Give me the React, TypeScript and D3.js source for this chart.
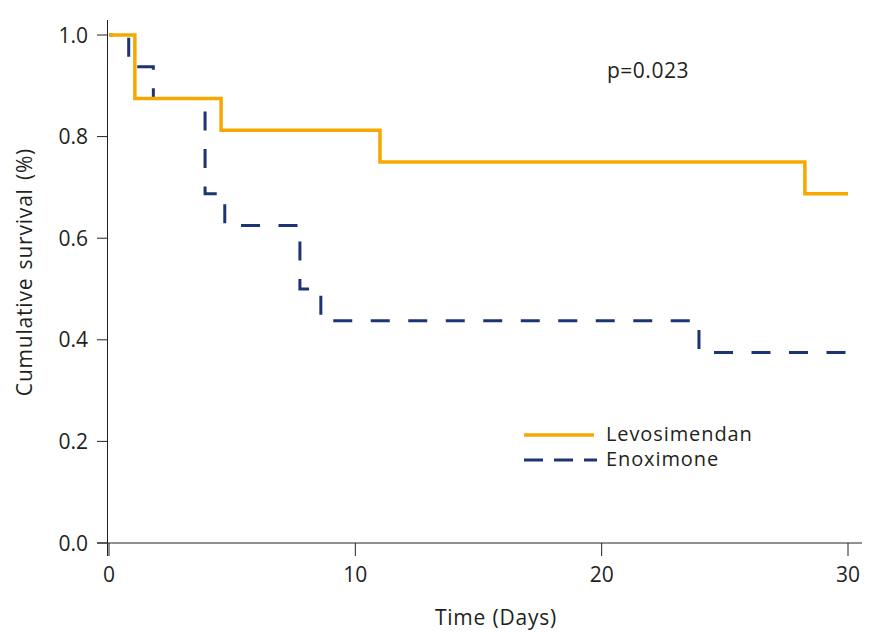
import React from "react";
import * as d3 from "d3";

const levoTimes = [0, 1.05, 4.55, 11.0, 28.25, 30];
const levoSurv = [1.0, 0.875, 0.8125, 0.75, 0.6875, 0.6875];
const enoxTimes = [0, 0.8, 1.8, 3.9, 4.7, 7.75, 8.6, 23.95, 30];
const enoxSurv = [1.0, 0.9375, 0.875, 0.6875, 0.625, 0.5, 0.4375, 0.375, 0.375];
const xTicks = [0, 10, 20, 30];
const yTicks = [0, 0.2, 0.4, 0.6, 0.8, 1.0];
const seriesNames = ["Levosimendan", "Enoximone"];
const pLabel = "p=0.023";

const W = 894;
const H = 632;
const ORANGE = "#f7a800";
const BLUE = "#1c3473";
const TXT = "#231f20";
const FONT = "'Open Sans', 'DejaVu Sans', sans-serif";

export default function App() {
  const x = d3.scaleLinear().domain([0, 30]).range([109, 848]);
  const y = d3.scaleLinear().domain([0, 1]).range([543, 35]);
  const line = d3
    .line<[number, number]>()
    .x((d) => x(d[0]))
    .y((d) => y(d[1]))
    .curve(d3.curveStepAfter);
  const levo = line(levoTimes.map((t, i) => [t, levoSurv[i]] as [number, number])) || "";
  const enox = line(enoxTimes.map((t, i) => [t, enoxSurv[i]] as [number, number])) || "";

  return (
    <svg
      width={W}
      height={H}
      style={{ position: "absolute", left: 0, top: 0, background: "#fff" }}
      fontFamily={FONT}
    >
      {/* axes */}
      <line x1={x(0) - 1.5} x2={x(0) - 1.5} y1={20} y2={556} stroke="#222" strokeWidth={1} />
      <line x1={97} x2={862} y1={y(0)} y2={y(0)} stroke="#222" strokeWidth={1} />
      {yTicks.map((t) => (
        <g key={"y" + t}>
          <line x1={97} x2={x(0) - 1.5} y1={y(t)} y2={y(t)} stroke="#222" strokeWidth={1} />
          <text x={88} y={y(t) + 7.5} textAnchor="end" fontSize={21} fill={TXT}>
            {t.toFixed(1)}
          </text>
        </g>
      ))}
      {xTicks.map((t) => (
        <g key={"x" + t}>
          <line x1={x(t)} x2={x(t)} y1={y(0)} y2={556} stroke="#222" strokeWidth={1} />
          <text x={x(t)} y={582} textAnchor="middle" fontSize={21} fill={TXT}>
            {t}
          </text>
        </g>
      ))}
      <text x={496} y={625} textAnchor="middle" fontSize={21} letterSpacing={0.8} fill={TXT}>
        Time (Days)
      </text>
      <text
        transform={`translate(32,272) rotate(-90)`}
        textAnchor="middle"
        fontSize={21}
        letterSpacing={0.8}
        wordSpacing={2}
        fill={TXT}
      >
        Cumulative survival (%)
      </text>

      {/* curves */}
      <path
        d={enox}
        fill="none"
        stroke={BLUE}
        strokeWidth={3}
        strokeDasharray="19,18.5"
        strokeDashoffset={15}
      />
      <path d={levo} fill="none" stroke={ORANGE} strokeWidth={3.5} />

      <text x={607} y={78} fontSize={21} letterSpacing={0.5} fill={TXT}>
        {pLabel}
      </text>

      {/* legend */}
      <line x1={524} x2={594} y1={435} y2={435} stroke={ORANGE} strokeWidth={3.5} />
      <text x={606} y={441} fontSize={20} letterSpacing={0.9} fill={TXT}>
        {seriesNames[0]}
      </text>
      <line x1={524} x2={597} y1={460} y2={460} stroke={BLUE} strokeWidth={3} strokeDasharray="19,11" />
      <text x={606} y={466} fontSize={20} letterSpacing={0.9} fill={TXT}>
        {seriesNames[1]}
      </text>
    </svg>
  );
}
